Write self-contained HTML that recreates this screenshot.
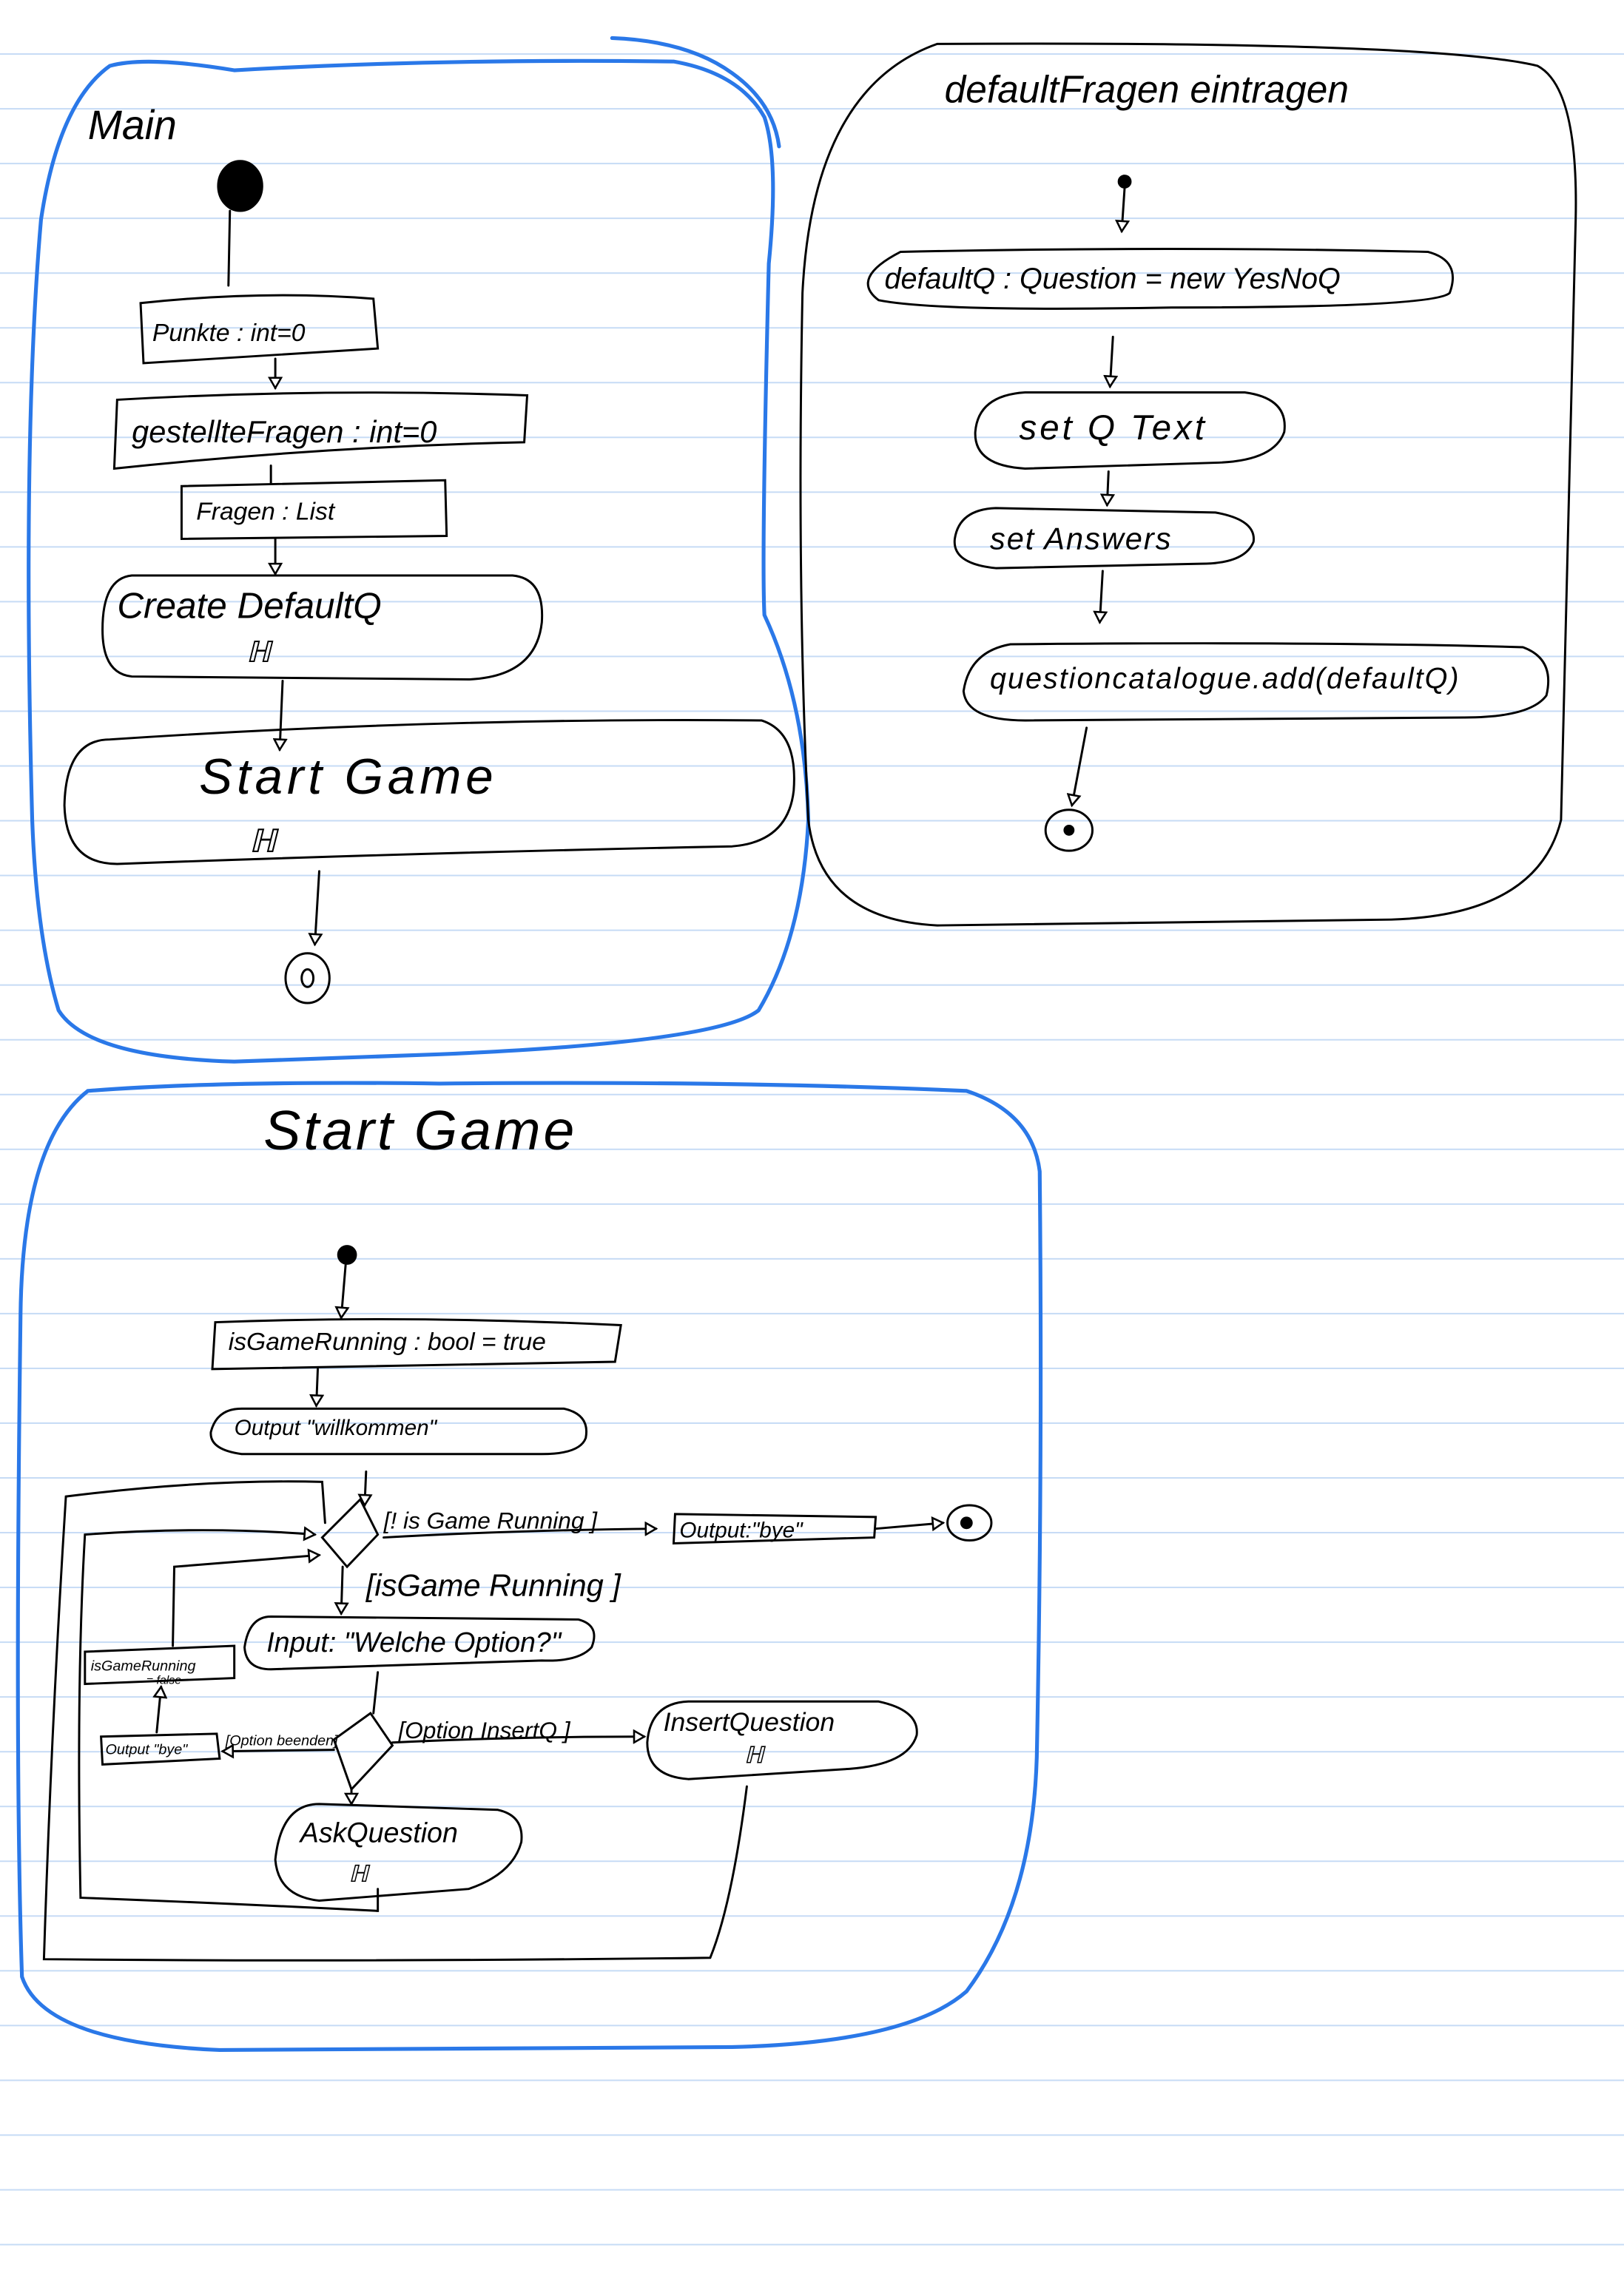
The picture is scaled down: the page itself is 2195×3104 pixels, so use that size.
<!DOCTYPE html>
<html><head><meta charset="utf-8"><style>
html,body{margin:0;padding:0;background:#fff;}
svg{display:block;}
text{font-family:"Liberation Sans",sans-serif;font-style:italic;fill:#000;}
</style></head><body>
<svg width="2195" height="3104" viewBox="0 0 1109 1568" preserveAspectRatio="none" xmlns="http://www.w3.org/2000/svg">
<defs>
<pattern id="lines" x="0" y="0" width="1109" height="37.4" patternUnits="userSpaceOnUse">
<rect x="0" y="36.4" width="1109" height="1.8" fill="#c6dbf5"/>
</pattern>
<marker id="ah" markerWidth="10" markerHeight="10" refX="8" refY="5" orient="auto" markerUnits="userSpaceOnUse">
<path d="M1,1 L8,5 L1,9 Z" fill="#fff" stroke="#000" stroke-width="1.3"/>
</marker>
</defs>
<rect width="1109" height="1568" fill="url(#lines)"/>

<g fill="none" stroke="#2a78e8" stroke-width="2.6" stroke-linecap="round">
<path d="M75,45 Q100,38 160,48 Q300,40 460,42 Q505,50 522,80 Q532,110 525,180 Q520,380 522,420 Q550,480 552,560 Q548,640 518,690 Q490,712 300,720 L160,725 Q60,722 40,690 Q25,640 22,560 Q15,300 28,150 Q40,70 75,45 Z"/>
<path d="M418,26 Q470,28 500,50 Q528,70 532,100"/>
<path d="M60,745 Q150,738 300,740 Q500,738 660,745 Q705,760 710,800 Q712,1000 708,1200 Q705,1300 660,1360 Q620,1395 500,1398 L150,1400 Q30,1395 15,1350 Q10,1200 14,900 Q15,780 60,745 Z"/>
</g>

<g fill="none" stroke="#000" stroke-width="1.5" stroke-linecap="round">
<path d="M640,30 Q980,28 1050,45 Q1078,60 1076,150 Q1070,400 1066,560 Q1050,625 950,628 L640,632 Q560,628 552,560 Q544,400 548,200 Q555,60 640,30 Z"/>

<ellipse cx="164" cy="127" rx="15" ry="17" fill="#000"/>
<path d="M157,144 L156,195"/>
<path d="M96,207 Q180,198 255,204 L258,238 Q180,243 98,248 Z"/>
<path d="M188,245 L188,265" marker-end="url(#ah)"/>
<path d="M80,273 Q220,265 360,270 L358,302 Q220,305 78,320 Z"/>
<path d="M185,318 L185,330"/>
<path d="M124,332 L304,328 L305,366 L124,368 Z"/>
<path d="M188,368 L188,392" marker-end="url(#ah)"/>
<path d="M90,393 L350,393 Q372,395 370,425 Q366,462 320,464 L90,462 Q70,460 70,430 Q70,395 90,393 Z"/>
<path d="M193,465 L191,512" marker-end="url(#ah)"/>
<path d="M75,505 Q300,490 520,492 Q545,500 542,540 Q538,575 500,578 Q300,582 80,590 Q45,590 44,550 Q45,505 75,505 Z"/>
<path d="M218,595 L215,645" marker-end="url(#ah)"/>
<ellipse cx="210" cy="668" rx="15" ry="17"/>
<ellipse cx="210" cy="668" rx="4" ry="6"/>

<circle cx="768" cy="124" r="4" fill="#000"/>
<path d="M768,128 L766,158" marker-end="url(#ah)"/>
<path d="M615,172 Q800,168 975,172 Q998,178 990,200 Q980,210 800,210 Q640,213 600,205 Q580,190 615,172 Z"/>
<path d="M760,230 L758,264" marker-end="url(#ah)"/>
<path d="M700,268 L850,268 Q880,272 877,295 Q870,315 830,316 L700,320 Q665,318 666,295 Q668,270 700,268 Z"/>
<path d="M757,322 L756,345" marker-end="url(#ah)"/>
<path d="M680,347 L830,350 Q858,355 856,370 Q850,385 820,385 L680,388 Q650,385 652,368 Q655,348 680,347 Z"/>
<path d="M753,390 L751,425" marker-end="url(#ah)"/>
<path d="M690,440 Q900,438 1040,442 Q1062,450 1056,475 Q1045,490 1000,490 L700,492 Q660,492 658,472 Q662,445 690,440 Z"/>
<path d="M742,497 L732,550" marker-end="url(#ah)"/>
<ellipse cx="730" cy="567" rx="16" ry="14"/>
<circle cx="730" cy="567" r="3" fill="#000"/>

<circle cx="237" cy="857" r="6" fill="#000"/>
<path d="M236,864 L233,900" marker-end="url(#ah)"/>
<path d="M147,903 Q280,898 424,905 L420,930 Q280,932 145,935 Z"/>
<path d="M217,935 L216,960" marker-end="url(#ah)"/>
<path d="M165,962 L385,962 Q403,966 400,982 Q396,993 370,993 L165,993 Q143,990 144,978 Q148,962 165,962 Z"/>
<path d="M250,1005 L249,1028" marker-end="url(#ah)"/>
<path d="M246,1024 L258,1048 L237,1070 L220,1050 Z"/>
<path d="M262,1050 Q350,1045 448,1044" marker-end="url(#ah)"/>
<path d="M461,1034 L598,1036 L597,1050 L460,1054 Z"/>
<path d="M598,1044 L644,1040" marker-end="url(#ah)"/>
<ellipse cx="662" cy="1040" rx="15" ry="12"/>
<circle cx="660" cy="1040" r="3.5" fill="#000"/>
<path d="M234,1070 L233,1102" marker-end="url(#ah)"/>
<path d="M185,1104 L395,1106 Q410,1110 404,1125 Q395,1135 370,1134 L185,1140 Q168,1140 167,1125 Q170,1104 185,1104 Z"/>
<path d="M58,1128 L160,1124 L160,1146 L58,1150 Z"/>
<path d="M118,1124 L119,1070 Q170,1066 218,1062" marker-end="url(#ah)"/>
<path d="M107,1183 L110,1152" marker-end="url(#ah)"/>
<path d="M69,1186 L148,1184 L150,1201 L70,1205 Z"/>
<path d="M228,1195 L152,1196" marker-end="url(#ah)"/>
<path d="M258,1142 L255,1170"/>
<path d="M253,1170 L268,1192 L240,1222 L228,1188 Z"/>
<path d="M268,1190 Q350,1186 440,1186" marker-end="url(#ah)"/>
<path d="M470,1162 L600,1162 Q628,1168 626,1185 Q620,1205 580,1208 L470,1215 Q442,1213 442,1190 Q444,1163 470,1162 Z"/>
<path d="M240,1222 L240,1232" marker-end="url(#ah)"/>
<path d="M218,1232 L340,1236 Q358,1240 356,1258 Q350,1280 320,1290 L218,1298 Q190,1295 188,1270 Q192,1232 218,1232 Z"/>
<path d="M258,1290 L258,1305 Q160,1300 55,1296 Q52,1150 58,1048 Q140,1042 215,1048" marker-end="url(#ah)"/>
<path d="M510,1220 Q500,1300 485,1337 Q250,1340 30,1338 Q35,1180 45,1022 Q140,1010 220,1012 L222,1040"/>
</g>

<g>
<text x="60" y="95" font-size="28">Main</text>
<text x="104" y="233" font-size="17">Punkte : int=0</text>
<text x="90" y="302" font-size="21">gestellteFragen : int=0</text>
<text x="134" y="355" font-size="17">Fragen :  List</text>
<text x="80" y="422" font-size="25">Create DefaultQ</text>
<text x="168" y="452" font-size="20" font-style="normal">ℍ</text>
<text x="136" y="542" font-size="34" letter-spacing="3">Start Game</text>
<text x="170" y="582" font-size="22" font-style="normal">ℍ</text>
<text x="645" y="70" font-size="26">defaultFragen eintragen</text>
<text x="604" y="197" font-size="20">defaultQ : Question = new YesNoQ</text>
<text x="696" y="300" font-size="24" letter-spacing="2">set Q Text</text>
<text x="676" y="375" font-size="21" letter-spacing="1">set Answers</text>
<text x="676" y="470" font-size="20" letter-spacing="1">questioncatalogue.add(defaultQ)</text>
<text x="180" y="785" font-size="38" letter-spacing="2">Start Game</text>
<text x="156" y="922" font-size="17">isGameRunning : bool = true</text>
<text x="160" y="980" font-size="15">Output  "willkommen"</text>
<text x="262" y="1044" font-size="16">[! is Game Running ]</text>
<text x="464" y="1050" font-size="15">Output:"bye"</text>
<text x="250" y="1090" font-size="21">[isGame Running ]</text>
<text x="182" y="1128" font-size="19">Input: "Welche Option?"</text>
<text x="62" y="1141" font-size="10">isGameRunning</text>
<text x="100" y="1150" font-size="8">= false</text>
<text x="72" y="1198" font-size="10">Output "bye"</text>
<text x="154" y="1192" font-size="10">[Option beenden]</text>
<text x="272" y="1187" font-size="16">[Option InsertQ    ]</text>
<text x="453" y="1182" font-size="18">InsertQuestion</text>
<text x="508" y="1204" font-size="16" font-style="normal">ℍ</text>
<text x="205" y="1258" font-size="19">AskQuestion</text>
<text x="238" y="1285" font-size="16" font-style="normal">ℍ</text>
</g>
</svg>
</body></html>
